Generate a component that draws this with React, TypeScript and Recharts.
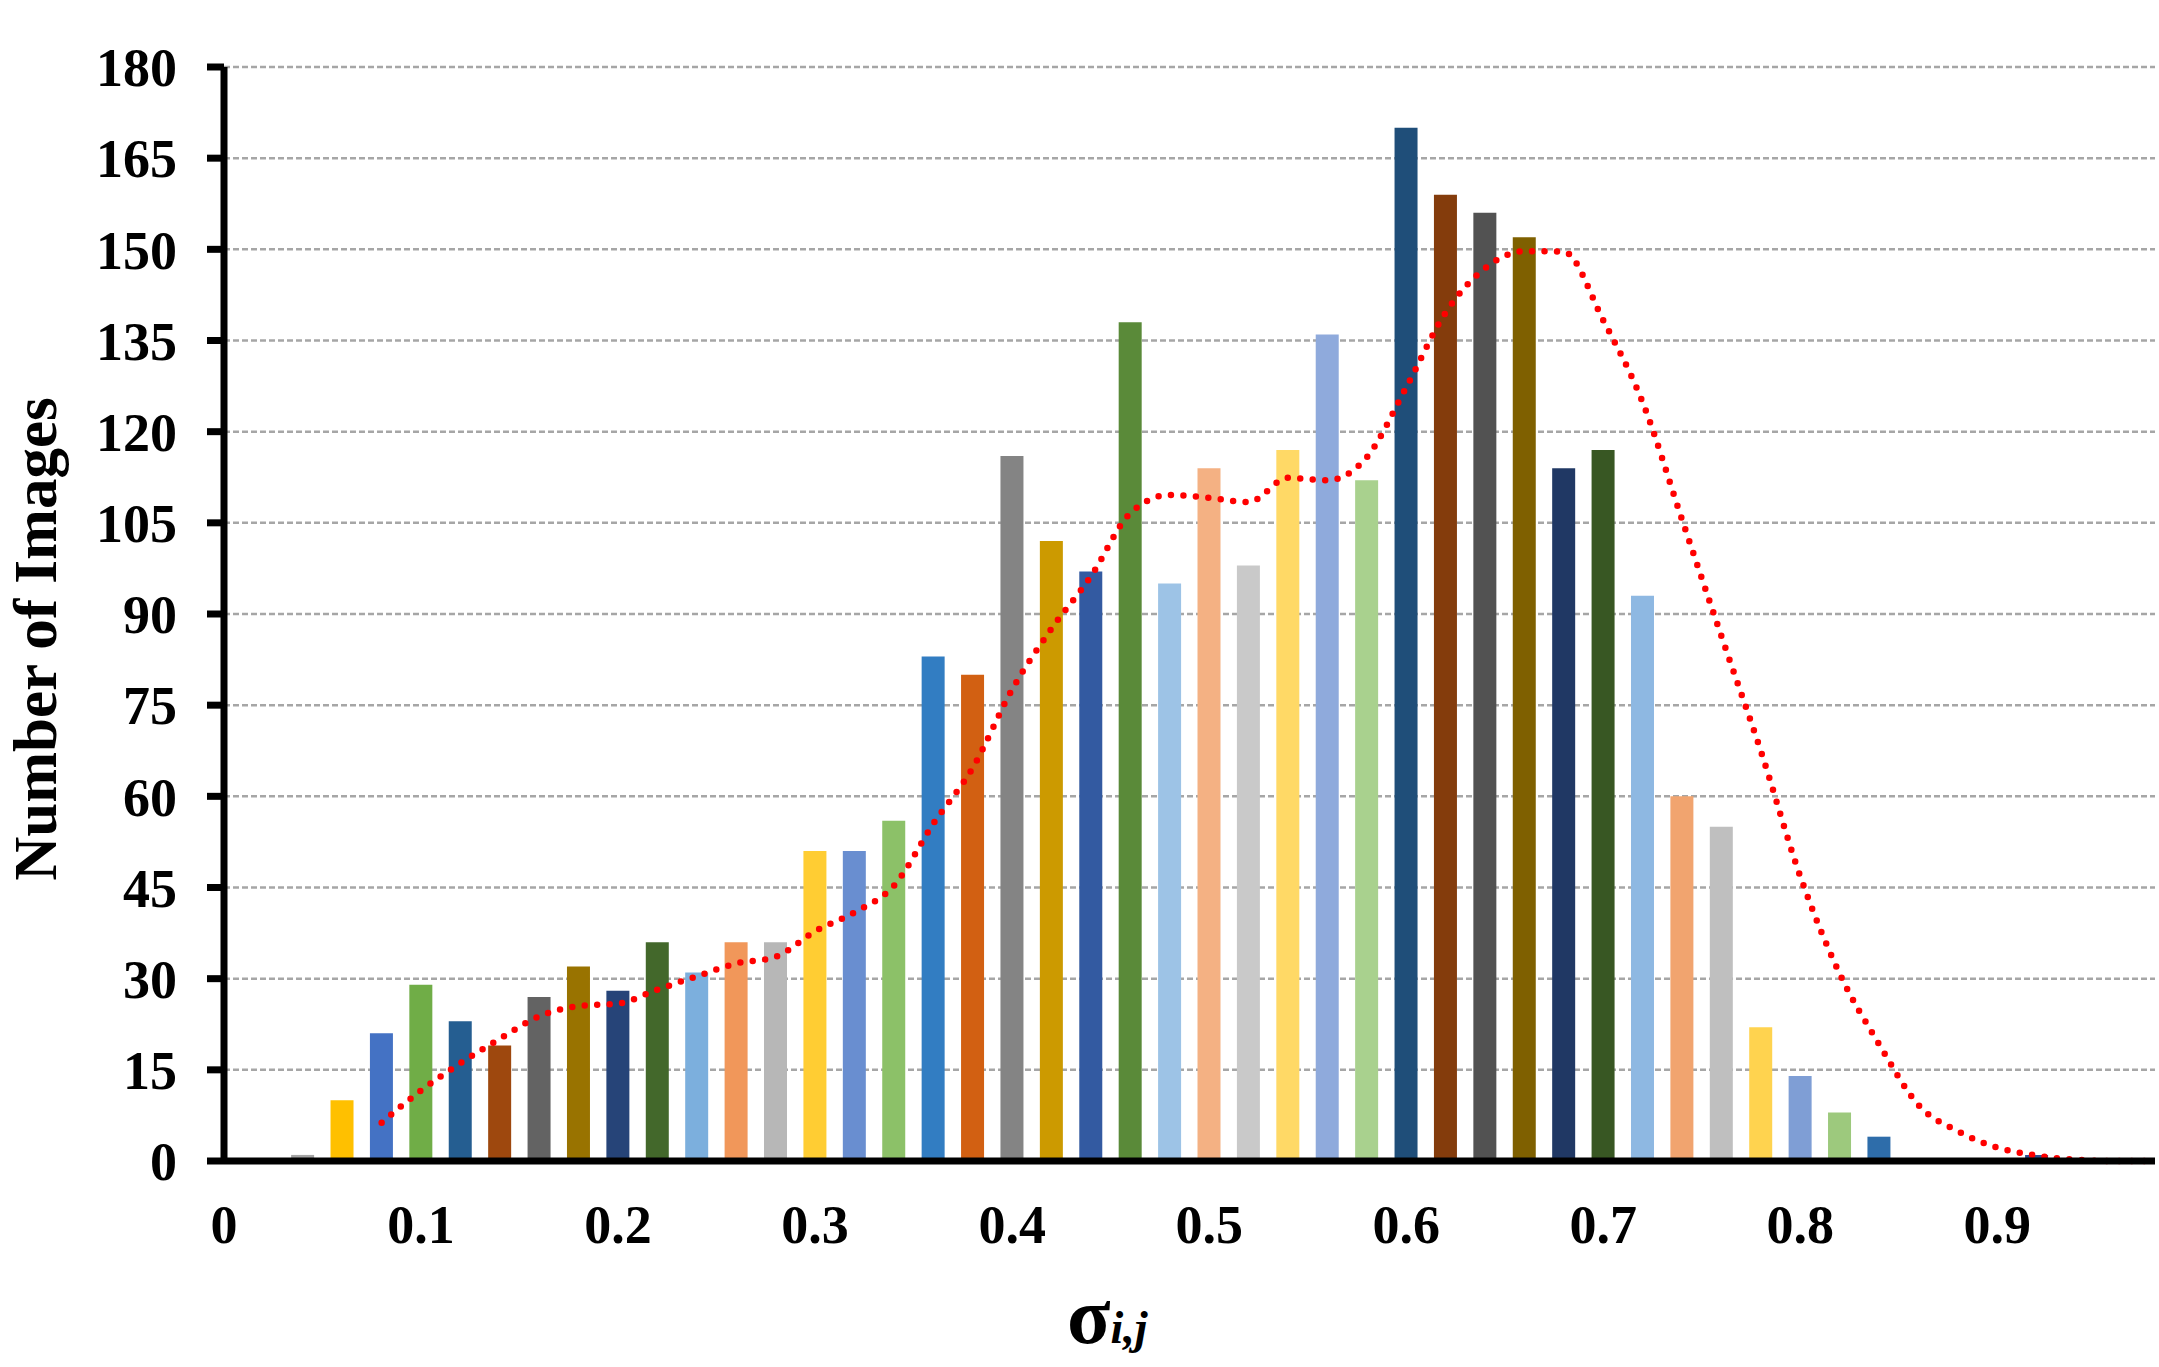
import React from "react";
import { ComposedChart, Bar, Line, XAxis, YAxis, CartesianGrid, Cell } from "recharts";

// sigma_{i,j} bins (bar centres)
const sigma = [
  0.04, 0.06, 0.08, 0.1, 0.12, 0.14, 0.16, 0.18, 0.2, 0.22, 0.24, 0.26, 0.28, 0.3, 0.32, 0.34,
  0.36, 0.38, 0.4, 0.42, 0.44, 0.46, 0.48, 0.5, 0.52, 0.54, 0.56, 0.58, 0.6, 0.62, 0.64, 0.66,
  0.68, 0.7, 0.72, 0.74, 0.76, 0.78, 0.8, 0.82, 0.84, 0.86, 0.88, 0.9, 0.92, 0.94, 0.96, 0.98,
];

// number of images per bin
const counts = [
  1, 10, 21, 29, 23, 19, 27, 32, 28, 36, 31, 36, 36, 51, 51, 56,
  83, 80, 116, 102, 97, 138, 95, 114, 98, 117, 136, 112, 170, 159, 156, 152,
  114, 117, 93, 60, 55, 22, 14, 8, 4, null, null, null, 1, null, null, null,
];

// smoothed distribution curve (red dotted)
const curve = [
  null, null, 6.3, 11.6, 16.1, 20.1, 23.8, 25.5, 25.9, 28.2, 30.4, 32.5, 33.6, 37.8, 40.9, 45.3,
  55.5, 64.7, 77.6, 87.6, 96.2, 106.6, 109.6, 109.1, 108.4, 112.4, 112.0, 115.8, 127.3, 139.6, 146.9, 149.7,
  149.6, 138.3, 124.8, 105.5, 86.3, 67.4, 46.8, 30.8, 19.2, 9.2, 4.9, 2.2, 0.9, 0.2, 0, 0,
];

const barColors = [
  "#A5A5A5", "#FFC000", "#4472C4", "#70AD47", "#255E91", "#9E480E", "#636363", "#997300",
  "#264478", "#43682B", "#7CAFDD", "#F1975A", "#B7B7B7", "#FFCD33", "#698ED0", "#8CC168",
  "#327DC2", "#D26012", "#848484", "#CC9A00", "#335AA1", "#5A8A39", "#9DC3E6", "#F4B183",
  "#C9C9C9", "#FFD966", "#8FAADC", "#A9D18E", "#1F4E79", "#843C0C", "#525252", "#7F6000",
  "#203864", "#385723", "#8EB8E2", "#F1A46F", "#BFBFBF", "#FFD34F", "#7F9ED5", "#9DC97D",
  "#2E6DAA", "#B05F23", "#6D6D6D", "#A88000", "#2F4F8F", "#4B7A30", "#8EB8E2", "#F1A46F",
];

const xTicks = [0, 0.1, 0.2, 0.3, 0.4, 0.5, 0.6, 0.7, 0.8, 0.9];
const yTicks = [0, 15, 30, 45, 60, 75, 90, 105, 120, 135, 150, 165, 180];

const FONT = '"Liberation Serif", "Times New Roman", serif';

const data = sigma.map((s, i) => ({ sigma: s, count: counts[i], curve: curve[i] }));

function XTick({ x, y, payload }: any) {
  return (
    <text x={x} y={y + 82} textAnchor="middle" fontFamily={FONT} fontWeight="bold" fontSize={54} fill="#000">
      {String(payload.value)}
    </text>
  );
}

function XLabel({ viewBox }: any) {
  const x = viewBox.x + 843;
  const y = viewBox.y + 182;
  return (
    <text x={x} y={y} fontFamily={FONT} fontWeight="bold" fill="#000">
      <tspan fontSize={80}>σ</tspan>
      <tspan fontSize={46} fontStyle="italic">i,j</tspan>
    </text>
  );
}

function YLabel({ viewBox }: any) {
  const x = 56;
  const y = viewBox.y + 572;
  return (
    <text
      x={x}
      y={y}
      transform={`rotate(-90 ${x} ${y})`}
      textAnchor="middle"
      fontFamily={FONT}
      fontWeight="bold"
      fontSize={61}
      fill="#000"
    >
      Number of Images
    </text>
  );
}

export default function App() {
  return (
    <div style={{ position: "absolute", left: 0, top: 0, width: 2159, height: 1367, background: "#fff" }}>
      <ComposedChart
        width={2159}
        height={1367}
        data={data}
        margin={{ top: 67, right: 4, bottom: 0, left: 0 }}
      >
        <CartesianGrid vertical={false} stroke="#A6A6A6" strokeWidth={2.5} strokeDasharray="6 3" />
        <XAxis
          type="number"
          dataKey="sigma"
          domain={[0, 0.98]}
          ticks={xTicks}
          allowDataOverflow
          height={206}
          tickLine={false}
          tickSize={0}
          tickMargin={0}
          axisLine={{ stroke: "#000", strokeWidth: 7 }}
          tick={<XTick />}
          label={{ content: (p: any) => <XLabel {...p} /> }}
        />
        <YAxis
          type="number"
          domain={[0, 180]}
          ticks={yTicks}
          width={224}
          tickSize={17}
          tickMargin={30}
          axisLine={{ stroke: "#000", strokeWidth: 7 }}
          tickLine={{ stroke: "#000", strokeWidth: 7 }}
          tick={{ fill: "#000", fontSize: 54, fontWeight: "bold", fontFamily: FONT }}
          label={{ content: (p: any) => <YLabel {...p} /> }}
        />
        <Bar dataKey="count" barSize={23} isAnimationActive={false}>
          {data.map((_, i) => (
            <Cell key={i} fill={barColors[i]} />
          ))}
        </Bar>
        <Line
          dataKey="curve"
          type="monotone"
          stroke="#FF0000"
          strokeWidth={6.5}
          strokeDasharray="0 12.5"
          strokeLinecap="round"
          dot={false}
          activeDot={false}
          isAnimationActive={false}
        />
      </ComposedChart>
    </div>
  );
}
